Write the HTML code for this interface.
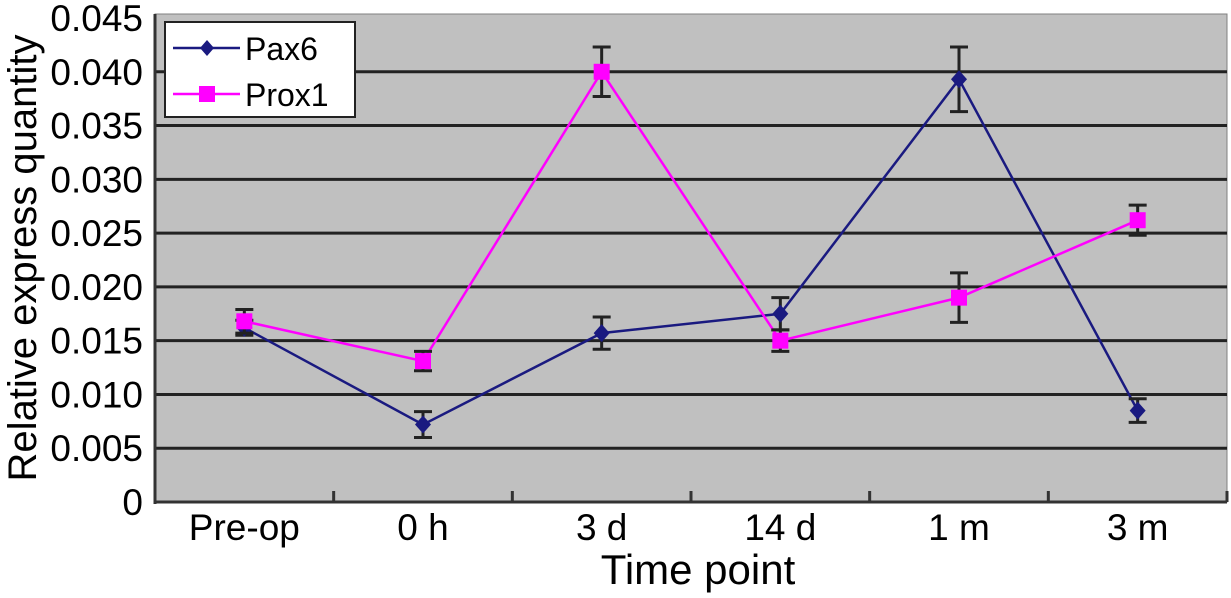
<!DOCTYPE html>
<html><head><meta charset="utf-8"><style>
body{margin:0;background:#fff;}
svg text{font-family:"Liberation Sans",Arial,sans-serif;fill:#000;}
</style></head><body>
<svg id="chart" width="1231" height="593" viewBox="0 0 1231 593" xmlns="http://www.w3.org/2000/svg"></svg>
<script>
const categories=["Pre-op","0 h","3 d","14 d","1 m","3 m"];
const pax6=[0.0162,0.0072,0.0157,0.0175,0.0393,0.0085];
const pax6Err=[0.0007,0.0012,0.0015,0.0015,0.003,0.0011];
const prox1=[0.0168,0.0131,0.0400,0.0150,0.0190,0.0262];
const prox1Err=[0.0011,0.0009,0.0023,0.0010,0.0023,0.0014];
const yTicks=["0","0.005","0.010","0.015","0.020","0.025","0.030","0.035","0.040","0.045"];
const yVals=[0,0.005,0.010,0.015,0.020,0.025,0.030,0.035,0.040,0.045];

const svg=document.getElementById('chart');
const NS="http://www.w3.org/2000/svg";
const L=155,R=1227,T=14,B=502;
const y=v=>B-(v/0.045)*(B-18);
const bw=(R-L)/categories.length;
const x=i=>L+bw*(i+0.5);
function mk(tag,attrs,parent){const e=document.createElementNS(NS,tag);for(const k in attrs)e.setAttribute(k,attrs[k]);(parent||svg).appendChild(e);return e;}

const bg=mk('rect',{x:L,y:T,width:R-L,height:B-T,fill:'#c0c0c0',stroke:'#808080','stroke-width':1});



yVals.forEach((v,i)=>{
  if(v>0&&v<0.045){const g=mk('line',{x1:L,x2:R,y1:y(v),y2:y(v),stroke:'#222','stroke-width':3});
  
  }
  const t=mk('text',{x:143,y:y(v)+13,'text-anchor':'end','font-size':37});
  t.textContent=yTicks[i];
  
  
});
mk('line',{x1:L,x2:L,y1:T,y2:B+2,stroke:'#333','stroke-width':3});
mk('line',{x1:L,x2:R,y1:B,y2:B,stroke:'#333','stroke-width':3});
for(let i=1;i<=categories.length;i++){mk('line',{x1:L+bw*i,x2:L+bw*i,y1:B-11,y2:B,stroke:'#333','stroke-width':3});}
categories.forEach((c,i)=>{
  const t=mk('text',{x:x(i),y:540,'text-anchor':'middle','font-size':37});
  t.textContent=c;
  
  
});
const xt=mk('text',{x:698,y:584,'text-anchor':'middle','font-size':42});
xt.textContent='Time point';


const yt=mk('text',{x:0,y:0,'text-anchor':'middle','font-size':40,transform:'translate(36,258) rotate(-90)'});
yt.textContent='Relative express quantity';



function series(vals,errs,color,square,name){
  const pl=mk('polyline',{points:vals.map((v,i)=>x(i)+','+y(v)).join(' '),fill:'none',stroke:color,'stroke-width':2.5});
  
  
  vals.forEach((v,i)=>{
    const cx=x(i),hi=y(v+errs[i]),lo=y(v-errs[i]);
    mk('line',{x1:cx,x2:cx,y1:hi,y2:lo,stroke:'#222','stroke-width':3});
    mk('line',{x1:cx-9,x2:cx+9,y1:hi,y2:hi,stroke:'#222','stroke-width':3});
    mk('line',{x1:cx-9,x2:cx+9,y1:lo,y2:lo,stroke:'#222','stroke-width':3});
    let m;
    if(square)m=mk('rect',{x:cx-8,y:y(v)-8,width:16,height:16,fill:color});
    else m=mk('polygon',{points:`${cx},${y(v)-9} ${cx+8},${y(v)} ${cx},${y(v)+9} ${cx-8},${y(v)}`,fill:color});
    
    
  });
}
series(pax6,pax6Err,'#1a1a80',false,'pax6');
series(prox1,prox1Err,'#ff00ff',true,'prox1');

const lg=mk('g',{});


mk('rect',{x:165,y:22,width:190,height:95,fill:'#fff',stroke:'#222','stroke-width':2},lg);
mk('line',{x1:173,x2:240,y1:48,y2:48,stroke:'#1a1a80','stroke-width':2.5},lg);
mk('polygon',{points:'207,40 214,48 207,56 200,48',fill:'#1a1a80'},lg);
mk('line',{x1:173,x2:240,y1:94,y2:94,stroke:'#ff00ff','stroke-width':2.5},lg);
mk('rect',{x:199,y:86,width:16,height:16,fill:'#ff00ff'},lg);
const l1=mk('text',{x:245,y:60,'font-size':32},lg);l1.textContent='Pax6';


const l2=mk('text',{x:245,y:106,'font-size':32},lg);l2.textContent='Prox1';


</script>
</body></html>
